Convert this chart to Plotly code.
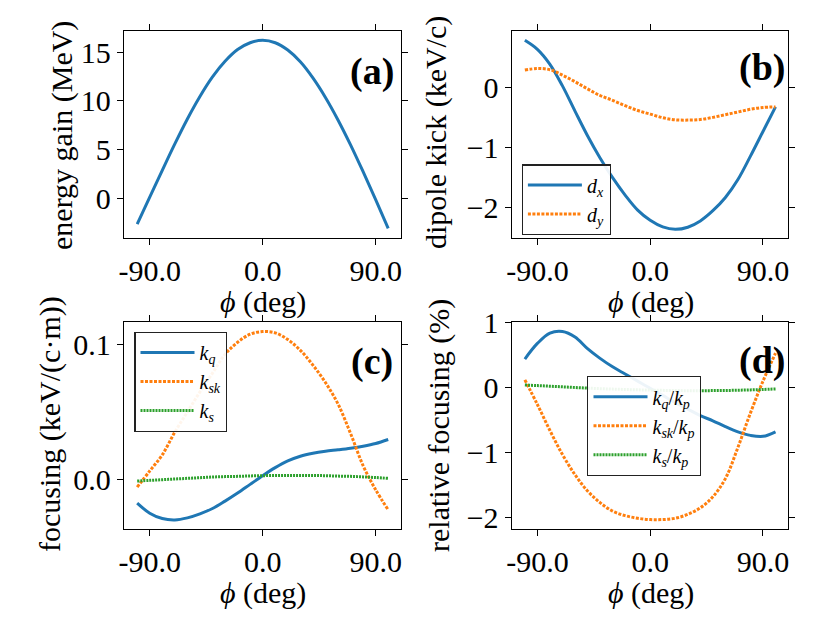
import plotly.graph_objects as go

# ---------------- data ----------------
phi = [-100, -90, -80, -70, -60, -50, -40, -30, -20, -10, 0,
       10, 20, 30, 40, 50, 60, 70, 80, 90, 100]

energy_gain = [-2.6, 0.15, 2.9, 5.6, 8.15, 10.45, 12.45, 14.05, 15.25, 15.95, 16.2,
               15.95, 15.2, 14.0, 12.35, 10.35, 8.05, 5.5, 2.75, -0.1, -3.05]

d_x = [0.79, 0.64, 0.39, 0.03, -0.39, -0.80, -1.17, -1.50, -1.79, -2.04, -2.21,
       -2.32, -2.36, -2.325, -2.22, -2.05, -1.83, -1.53, -1.14, -0.73, -0.32]
d_y = [0.295, 0.32, 0.30, 0.21, 0.10, -0.02, -0.13, -0.21, -0.30, -0.38, -0.44,
       -0.50, -0.535, -0.54, -0.53, -0.495, -0.45, -0.405, -0.36, -0.33, -0.32]

k_q = [-0.018, -0.0255, -0.0295, -0.0305, -0.029, -0.026, -0.022, -0.0165, -0.0105, -0.004, 0.0025,
       0.0085, 0.0135, 0.017, 0.0192, 0.0207, 0.0218, 0.023, 0.0245, 0.0265, 0.0295]
k_sk = [-0.006, 0.006, 0.018, 0.035, 0.050, 0.065, 0.079, 0.093, 0.102, 0.108, 0.110,
        0.109, 0.104, 0.096, 0.085, 0.072, 0.056, 0.034, 0.010, -0.008, -0.023]
k_s = [-0.0015, -0.001, -0.0005, 0.0, 0.0005, 0.001, 0.0015, 0.0018, 0.002, 0.0023, 0.0025,
       0.0026, 0.0027, 0.0027, 0.0026, 0.0025, 0.0022, 0.002, 0.0016, 0.0011, 0.0005]

rel_kq = [0.44, 0.68, 0.84, 0.865, 0.78, 0.60, 0.45, 0.32, 0.21, 0.10, -0.01,
          -0.12, -0.23, -0.33, -0.43, -0.51, -0.60, -0.68, -0.735, -0.75, -0.68]
rel_ksk = [0.12, -0.26, -0.66, -1.03, -1.34, -1.59, -1.77, -1.90, -1.97, -2.01, -2.03,
           -2.03, -2.01, -1.95, -1.85, -1.68, -1.40, -0.92, -0.39, 0.10, 0.53]
rel_ks = [0.04, 0.031, 0.022, 0.012, 0.002, -0.008, -0.016, -0.023, -0.029, -0.034, -0.038,
          -0.042, -0.045, -0.047, -0.047, -0.046, -0.044, -0.040, -0.035, -0.028, -0.02]

x_tickvals = [-90, 0, 90]
x_ticktext = ["-90.0", "0.0", "90.0"]

# ---------------- styling ----------------
BLUE, ORANGE, GREEN = "#1f77b4", "#ff7f0e", "#2ca02c"
FONT = "Liberation Serif, DejaVu Serif, serif"
TICK_SIZE = 30

fig = go.Figure()

def line(x, y, color, dash, width, name, xa, ya, legend=None):
    fig.add_trace(go.Scatter(
        x=x, y=y, mode="lines", name=name,
        line=dict(color=color, dash=dash, width=width, shape="spline", smoothing=1.0),
        xaxis=xa, yaxis=ya, showlegend=legend is not None,
        legend=legend if legend else "legend"))

SOLID, DOT_O, DOT_G = "solid", "3px,1.5px", "2px,1px"

line(phi, energy_gain, BLUE, SOLID, 3, "energy", "x", "y")

line(phi, d_x, BLUE, SOLID, 3, "<i>d</i><sub><i>x</i></sub>", "x2", "y2", "legend")
line(phi, d_y, ORANGE, DOT_O, 3, "<i>d</i><sub><i>y</i></sub>", "x2", "y2", "legend")

line(phi, k_q, BLUE, SOLID, 3, "<i>k</i><sub><i>q</i></sub>", "x3", "y3", "legend2")
line(phi, k_sk, ORANGE, DOT_O, 3, "<i>k</i><sub><i>sk</i></sub>", "x3", "y3", "legend2")
line(phi, k_s, GREEN, DOT_G, 3, "<i>k</i><sub><i>s</i></sub>", "x3", "y3", "legend2")

line(phi, rel_kq, BLUE, SOLID, 3, "<i>k</i><sub><i>q</i></sub>/<i>k</i><sub><i>p</i></sub>", "x4", "y4", "legend3")
line(phi, rel_ksk, ORANGE, DOT_O, 3, "<i>k</i><sub><i>sk</i></sub>/<i>k</i><sub><i>p</i></sub>", "x4", "y4", "legend3")
line(phi, rel_ks, GREEN, DOT_G, 3, "<i>k</i><sub><i>s</i></sub>/<i>k</i><sub><i>p</i></sub>", "x4", "y4", "legend3")

# The page body has an 8px margin, so the figure starts at (8, 8) in the window.
OFF = 8
W, H = 830 - OFF, 623 - OFF
def px_x(p):
    return (p - OFF) / W
def px_y(p):
    return 1 - (p - OFF) / H

xdom_l = [px_x(124), px_x(401)]
xdom_r = [px_x(511.7), px_x(788.3)]
ydom_t = [px_y(238), px_y(31)]
ydom_b = [px_y(529.3), px_y(322.3)]

axis_common = dict(showgrid=False, zeroline=False, showline=True, linecolor="black",
                   linewidth=1.3, mirror="ticks", ticks="outside", ticklen=6, tickwidth=1.3,
                   tickcolor="black", automargin=False,
                   tickfont=dict(family=FONT, size=TICK_SIZE, color="black"))

def xaxis(dom, anchor):
    return dict(domain=dom, anchor=anchor, range=[-110.5, 110.2], tickmode="array",
                tickvals=x_tickvals, ticktext=x_ticktext, **axis_common)

def yaxis(dom, anchor, rng, vals, text):
    return dict(domain=dom, anchor=anchor, range=rng, tickmode="array",
                tickvals=vals, ticktext=text, **axis_common)

legend_common = dict(bgcolor="rgba(255,255,255,0.92)", bordercolor="#222222", borderwidth=1.2,
                     font=dict(family=FONT, size=20, color="black"), itemwidth=54,
                     xanchor="left", yanchor="top", tracegroupgap=0)

annotations = []
def ann(text, x, y, size, angle=0, bold=False):
    annotations.append(dict(text=("<b>%s</b>" % text) if bold else text, x=px_x(x), y=px_y(y),
                            xref="paper", yref="paper", showarrow=False, textangle=angle,
                            xanchor="center", yanchor="middle",
                            font=dict(family=FONT, size=size, color="black")))

PHI_T = "<i>ϕ</i> (deg)"
ann(PHI_T, 263, 301.7, 30)
ann(PHI_T, 650.7, 301.7, 30)
ann(PHI_T, 263, 593, 30)
ann(PHI_T, 650.7, 593, 30)
ann("energy gain (MeV)", 62, 136, 30, -90)
ann("dipole kick (keV/c)", 436, 133, 30, -90)
ann("focusing (keV/(c·m))", 50, 424, 30, -90)
ann("relative focusing (%)", 439, 426, 30, -90)
ann("(a)", 372, 72, 38, bold=True)
ann("(b)", 762, 67, 38, bold=True)
ann("(c)", 372, 361, 38, bold=True)
ann("(d)", 762, 360, 38, bold=True)

fig.update_layout(
    template="none",
    width=W, height=H, autosize=False,
    margin=dict(l=0, r=0, t=0, b=0, pad=0, autoexpand=False),
    paper_bgcolor="white", plot_bgcolor="white",
    font=dict(family=FONT, color="black"),
    xaxis=xaxis(xdom_l, "y"),
    yaxis=yaxis(ydom_t, "x", [-4.03, 17.15], [0, 5, 10, 15], ["0", "5", "10", "15"]),
    xaxis2=xaxis(xdom_r, "y2"),
    yaxis2=yaxis(ydom_t, "x2", [-2.505, 0.945], [-2, -1, 0], ["−2", "−1", "0"]),
    xaxis3=xaxis(xdom_l, "y3"),
    yaxis3=yaxis(ydom_b, "x3", [-0.0375, 0.1169], [0.0, 0.1], ["0.0", "0.1"]),
    xaxis4=xaxis(xdom_r, "y4"),
    yaxis4=yaxis(ydom_b, "x4", [-2.18, 1.005], [-2, -1, 0, 1], ["−2", "−1", "0", "1"]),
    legend=dict(x=px_x(521.7), y=px_y(164.3), **legend_common),
    legend2=dict(x=px_x(134.3), y=px_y(331.7), **legend_common),
    legend3=dict(x=px_x(587.3), y=px_y(376), **legend_common),
    annotations=annotations,
)

fig.write_html("out.html")
